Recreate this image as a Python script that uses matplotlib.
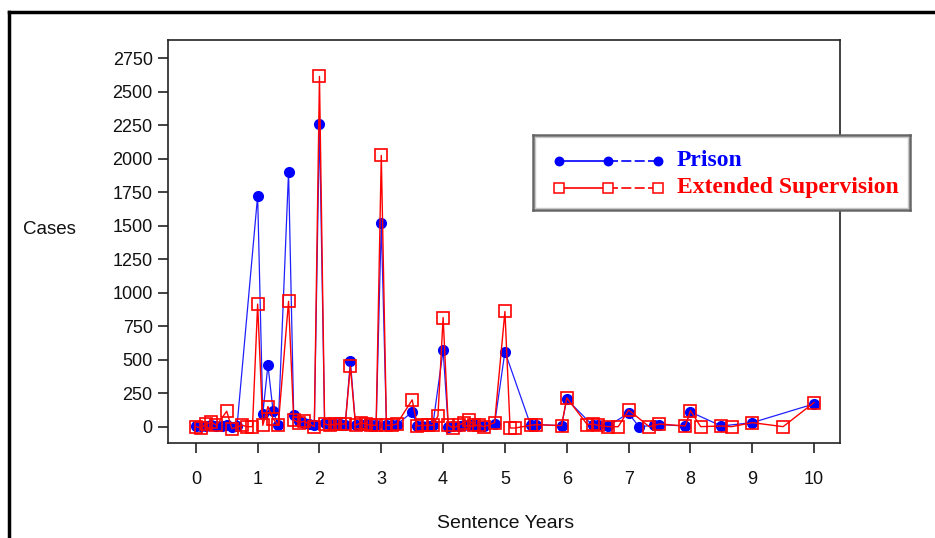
import numpy as np
import matplotlib
matplotlib.use("Agg")
import matplotlib.pyplot as plt
from matplotlib.patches import Rectangle
from matplotlib.lines import Line2D

# sentence length in months, converted to years below
prison_months = [0, 1, 2, 3, 4, 5, 6, 7, 8, 12, 13, 14, 15, 16, 18, 19, 20, 21, 22, 23,
                 24, 25, 26, 27, 28, 29, 30, 31, 32, 33, 34, 35, 36, 37, 38, 39, 42, 43,
                 44, 45, 46, 48, 49, 50, 51, 52, 53, 54, 55, 56, 58, 60, 65, 66, 71, 72,
                 77, 78, 80, 84, 86, 89, 90, 95, 96, 102, 108, 120]
prison_cases = [8, 5, 5, 10, 5, 8, 12, 0, 5, 1725, 95, 460, 115, 10, 1905, 85, 40, 30, 20, 15,
                2260, 25, 20, 20, 20, 10, 490, 10, 10, 20, 10, 10, 1520, 10, 10, 15, 110, 5,
                5, 5, 10, 570, 0, 5, 5, 10, 10, 20, 5, 5, 20, 560, 10, 15, 8, 205,
                10, 10, 5, 100, 0, 10, 15, 5, 110, 5, 30, 170]

es_months = [0, 1, 2, 3, 4, 6, 7, 9, 10, 11, 12, 13, 14, 15, 16, 18, 19, 20, 21, 23,
             24, 25, 26, 27, 28, 29, 30, 31, 32, 33, 34, 35, 36, 37, 38, 39, 42, 43,
             44, 45, 46, 47, 48, 49, 50, 51, 52, 53, 54, 55, 56, 58, 60, 61, 62, 65,
             66, 71, 72, 76, 77, 78, 80, 82, 84, 88, 90, 95, 96, 98, 102, 104, 108,
             114, 120]
es_cases = [0, -10, 20, 35, 10, 115, -15, 10, 0, 0, 915, 10, 150, 60, 10, 935, 50, 30, 40, 0,
            2615, 20, 10, 20, 20, 20, 450, 10, 30, 20, 10, 10, 2025, 10, 10, 20, 200, 5,
            10, 10, 10, 80, 815, 10, -10, 10, 30, 50, 10, 10, 0, 30, 860, -10, -10, 10,
            15, 8, 215, 15, 20, 10, 0, 0, 125, 0, 20, 5, 120, 0, 5, 0, 30,
            0, 180]

x_ticks = list(range(0, 11))
y_ticks = list(range(0, 2751, 250))

prison_years = np.array(prison_months) / 12
es_years = np.array(es_months) / 12

fig = plt.figure(figsize=(9.35, 5.38), dpi=100)
W, H = 935, 538

ax = fig.add_axes([168 / W, 1 - 443 / H, (840 - 168) / W, (443 - 40) / H])
ax.plot(prison_years, prison_cases, color="#2020ff", lw=0.9, marker="o", ms=7,
        mfc="#0000ff", mec="#0000ff", zorder=2)
ax.plot(es_years, es_cases, color="#ff0000", lw=1.0, marker="s", ms=8,
        mfc="none", mec="#ff0000", mew=1.2, zorder=3)

ax.set_xlim(-0.45, 10.42)
ax.set_ylim(-122, 2887)
ax.set_xticks(x_ticks)
ax.set_yticks(y_ticks)
for s in ax.spines.values():
    s.set_linewidth(1.2)
    s.set_color("#222222")
ax.tick_params(axis="x", direction="out", length=7, width=1.2, pad=13,
               labelsize=13, colors="#222222")
ax.tick_params(axis="y", direction="out", length=7, width=1.2, pad=4,
               labelsize=13, colors="#222222")
for lab in ax.get_xticklabels() + ax.get_yticklabels():
    lab.set_family("Liberation Sans")
    lab.set_color("#111111")

fig.text(49 / W, 1 - 230 / H, "Cases", ha="center", va="center",
         fontsize=13.5, family="Liberation Sans", color="#111111")
fig.text(506 / W, 1 - 523 / H, "Sentence Years", ha="center", va="center",
         fontsize=14, family="Liberation Sans", color="#111111")

# outer frame (left and top edges)
fig.add_artist(Line2D([9 / W, 9 / W], [0, 1 - 12 / H], color="black", lw=2.5))
fig.add_artist(Line2D([9 / W, 1], [1 - 12 / H, 1 - 12 / H], color="black", lw=2.5))

# legend box drawn in its own axes
lg = fig.add_axes([533 / W, 1 - 210 / H, (910 - 533) / W, (210 - 135) / H])
lg.set_xlim(533, 910)
lg.set_ylim(210, 135)
lg.set_xticks([])
lg.set_yticks([])
for s in lg.spines.values():
    s.set_linewidth(1.8)
    s.set_color("#666666")
lg.add_patch(Rectangle((535, 137), 373, 71, fill=False, ec="#c8c8c8", lw=1))

handle_x = [559, 608, 658]
for yy, col, mk, mfc, label in [(161, "#0000ff", "o", "#0000ff", "Prison"),
                                (188, "#ff0000", "s", "white", "Extended Supervision")]:
    lg.plot([559, 608], [yy, yy], color=col, lw=1.2)
    lg.plot([608, 658], [yy, yy], color=col, lw=1.2, ls=(0, (6, 2)))
    lg.plot(handle_x, [yy] * 3, ls="none", marker=mk, ms=6 if mk == "o" else 6.5,
            mfc=mfc, mec=col, mew=1.1)
    lg.text(677, yy, label, color=col, fontsize=17, fontweight="bold",
            family="Liberation Serif", va="center", ha="left")

fig.savefig("out.png", dpi=100)
